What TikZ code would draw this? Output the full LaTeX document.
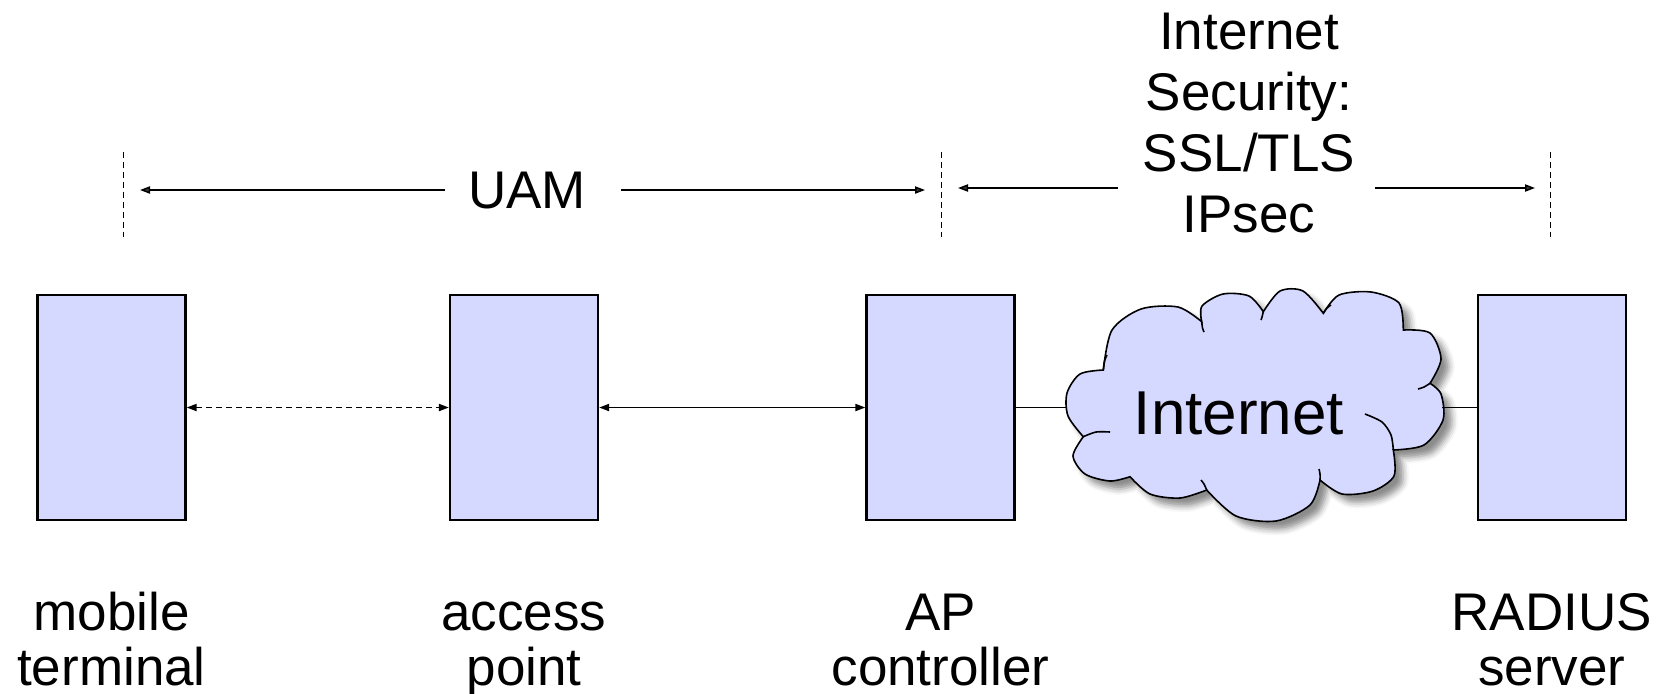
\documentclass[tikz,border=0pt]{standalone}
\usepackage{fontspec}
\setmainfont{Liberation Sans}
\usetikzlibrary{arrows.meta,shadows.blur}
\definecolor{boxfill}{RGB}{213,216,255}
\begin{document}
\begin{tikzpicture}[x=0.5pt,y=-0.5pt,
  box/.style={draw=black, line width=1.2pt, fill=boxfill,
    minimum width=74pt, minimum height=112.5pt, inner sep=0pt},
  lbl/.style={font=\fontsize{26.5}{27.5}\selectfont, align=center,
    anchor=base, inner sep=0pt},
  toplbl/.style={font=\fontsize{26.5}{30.5}\selectfont, align=center,
    anchor=base, inner sep=0pt},
  link/.style={line width=0.75pt},
  tip/.style={-{Triangle[length=5pt,width=3.6pt]}},
  both/.style={{Triangle[length=5pt,width=3.6pt]}-{Triangle[length=5pt,width=3.6pt]}},
  guide/.style={line width=0.75pt, dash pattern=on 3pt off 2pt},
  puffy/.style={draw=black, line width=0.8pt, fill=boxfill,
    blur shadow={shadow xshift=4pt, shadow yshift=-4pt,
      shadow blur radius=3pt, shadow opacity=45}},
  crease/.style={draw=black, line width=0.8pt},
]
\useasboundingbox (0,0) rectangle (1664,693);

% equipment boxes
\node[box] (mt)  at (111.5,407.5) {};
\node[box] (ap)  at (524,407.5) {};
\node[box] (apc) at (940.5,407.5) {};
\node[box] (rad) at (1551.7,407.5) {};

% labels under the boxes (anchor base = last line)
\node[lbl] (mtl)  at (111.5,685) {mobile\\terminal};
\node[lbl] (apl)  at (524,685) {access\\point};
\node[lbl] (apcl) at (940.5,685) {AP\\controller};
\node[lbl] (radl) at (1551.7,685) {RADIUS\\server};

% links between the boxes
\draw[link, both, dash pattern=on 3pt off 2pt] (mt) -- (ap);
\draw[link, both] (ap) -- (apc);

% the Internet cloud
\path[puffy]
  plot[smooth] coordinates {(1103.3,370) (1080,374) (1067,393) (1068,416) (1083.3,436.7)}
  -- plot[smooth] coordinates {(1083.3,436.7) (1073,456) (1085,474) (1110,481) (1130,476.7)}
  -- plot[smooth] coordinates {(1130,476.7) (1150,494) (1180,498) (1206.7,490)}
  -- plot[smooth] coordinates {(1206.7,490) (1236,516) (1276,521) (1310,505) (1320,480)}
  -- plot[smooth] coordinates {(1320,480) (1342,494) (1373,491) (1394,476) (1393.3,450)}
  -- plot[smooth] coordinates {(1393.3,450) (1424,445) (1443,420) (1441,394) (1430,383.3)}
  -- plot[smooth] coordinates {(1430,383.3) (1441,359) (1430,333) (1403.3,330)}
  -- plot[smooth] coordinates {(1403.3,330) (1399,303) (1371,292) (1339,295) (1323.3,313.3)}
  -- plot[smooth] coordinates {(1323.3,313.3) (1303,291) (1280,291) (1263.3,311.7)}
  -- plot[smooth] coordinates {(1263.3,311.7) (1249,296) (1223,294) (1202,306) (1201.7,321.7)}
  -- plot[smooth] coordinates {(1201.7,321.7) (1178,307) (1141,309) (1112,330) (1103.3,370)}
  -- cycle;
% creases inside the cloud
\draw[crease] plot[smooth] coordinates {(1365,414) (1382,422) (1391,435) (1393.3,450)};
\draw[crease] plot[smooth] coordinates {(1083.3,436.7) (1096,432) (1110,432)};
\draw[crease] plot[smooth] coordinates {(1103.3,370) (1104.5,361) (1107,355)};
\draw[crease] plot[smooth] coordinates {(1201.7,321.7) (1202.5,328) (1204,332)};
\draw[crease] plot[smooth] coordinates {(1263.3,311.7) (1262,317) (1261,320)};
\draw[crease] plot[smooth] coordinates {(1323.3,313.3) (1327,308) (1331,305)};
\draw[crease] plot[smooth] coordinates {(1430,383.3) (1424,387) (1418,389)};
\draw[crease] plot[smooth] coordinates {(1320,480) (1320,474) (1319,469)};
\draw[crease] plot[smooth] coordinates {(1206.7,490) (1204,484) (1201,480)};
\node[font=\fontsize{31}{36}\selectfont, inner sep=0pt, anchor=base] (inet) at (1239,434) {Internet};
\coordinate (cw) at (1067,407.5);
\coordinate (ce) at (1442,407.5);
\draw[link] (apc) -- (cw);
\draw[link] (ce) -- (rad);

% scope markers above the boxes
\coordinate (g1t) at (123.5,152); \coordinate (g1b) at (123.5,237);
\coordinate (g2t) at (941.5,152); \coordinate (g2b) at (941.5,237);
\coordinate (g3t) at (1550.5,152); \coordinate (g3b) at (1550.5,237);
\draw[guide] (g1t) -- (g1b);
\draw[guide] (g2t) -- (g2b);
\draw[guide] (g3t) -- (g3b);

% UAM span
\node[toplbl] (uam) at (527,208) {UAM};
\coordinate (u1s) at (445,190); \coordinate (u1e) at (140,190);
\coordinate (u2s) at (621,190); \coordinate (u2e) at (925,190);
\draw[link, tip] (u1s) -- (u1e);
\draw[link, tip] (u2s) -- (u2e);

% Internet security span (anchor base = last line)
\node[toplbl] (sec) at (1249,232) {Internet\\Security:\\SSL/TLS\\IPsec};
\coordinate (s1s) at (1118,188); \coordinate (s1e) at (958,188);
\coordinate (s2s) at (1375,188); \coordinate (s2e) at (1535,188);
\draw[link, tip] (s1s) -- (s1e);
\draw[link, tip] (s2s) -- (s2e);
\end{tikzpicture}
\end{document}
